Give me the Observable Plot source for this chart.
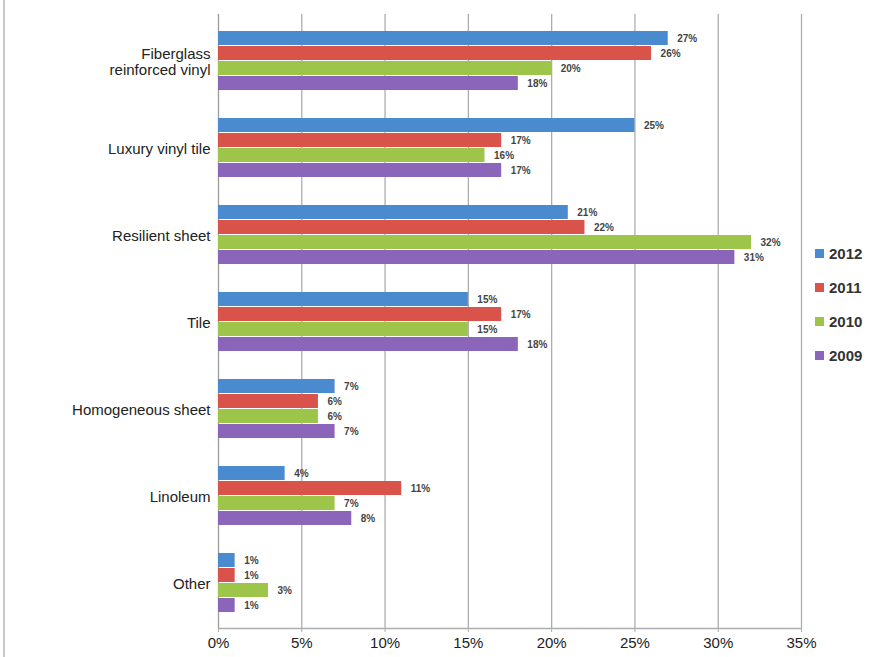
<!DOCTYPE html>
<html>
<head>
<meta charset="utf-8">
<script src="https://cdn.jsdelivr.net/npm/d3@7"></script>
<script src="https://cdn.jsdelivr.net/npm/@observablehq/plot@0.6"></script>
<style>
  body { margin: 0; background: #fff; }
  #wrap { position: relative; width: 877px; height: 657px; overflow: hidden; font-family: "Liberation Sans", Arial, sans-serif; background: #fff; }
  #border { position: absolute; left: 3px; top: 0; width: 2px; height: 657px; background: #c9c9c9; }
  #legend { position: absolute; left: 815px; top: 236px; }
  .item { display: flex; align-items: center; height: 34px; font-size: 15px; font-weight: bold; color: #333; }
  .sw { width: 9px; height: 9px; margin-right: 5px; }
  svg { position: absolute; left: 0; top: 0; }
</style>
</head>
<body>
<div id="wrap"><div id="border"></div><div id="legend"></div></div>
<script>
const categories = ["Fiberglass\nreinforced vinyl", "Luxury vinyl tile", "Resilient sheet", "Tile", "Homogeneous sheet", "Linoleum", "Other"];
const years = ["2012", "2011", "2010", "2009"];
const colors = ["#4a8bd0", "#d9534a", "#9dc54a", "#8a65ba"];
const v2012 = [27, 25, 21, 15, 7, 4, 1];
const v2011 = [26, 17, 22, 17, 6, 11, 1];
const v2010 = [20, 16, 32, 15, 6, 7, 3];
const v2009 = [18, 17, 31, 18, 7, 8, 1];
const xTicks = [0, 5, 10, 15, 20, 25, 30, 35];

const series = [v2012, v2011, v2010, v2009];
const data = [];
categories.forEach((c, i) => years.forEach((y, j) => data.push({category: c, year: y, value: series[j][i]})));

const frame = {
  width: 877, height: 657,
  marginLeft: 218, marginRight: 76, marginTop: 16, marginBottom: 29,
  style: {fontFamily: "'Liberation Sans', Arial, sans-serif", background: "transparent", overflow: "visible"}
};

// Background: gridlines, axis lines and x axis (continuous, not faceted)
const back = Plot.plot({
  ...frame,
  x: {domain: [0, 35]},
  y: {domain: [0, 1], axis: null},
  marks: [
    Plot.ruleX(xTicks.slice(1), {stroke: "#adadad", strokeWidth: 1.3, insetTop: -2}),
    Plot.ruleX([0], {stroke: "#9a9a9a", strokeWidth: 1.3, insetTop: -2}),
    Plot.ruleY([0], {stroke: "#adadad", strokeWidth: 1.3}),
    Plot.axisX({ticks: xTicks, tickFormat: d => d + "%", tickSize: 4, tickPadding: 5, fontSize: 15, fill: "#222", stroke: "#adadad", label: null})
  ]
});

// Foreground: grouped bars via fy facets
const front = Plot.plot({
  ...frame,
  x: {domain: [0, 35], axis: null},
  fy: {domain: categories, paddingInner: 0.27, paddingOuter: 0.135},
  y: {domain: years, padding: 0.06, axis: null},
  color: {domain: years, range: colors},
  marks: [
    Plot.barX(data, {x: "value", y: "year", fy: "category", fill: "year"}),
    Plot.text(data, {x: "value", y: "year", fy: "category", text: d => d.value + "%", textAnchor: "start", dx: 9, fontWeight: "bold", fontSize: 10, fill: "#444"}),
    Plot.axisFy({anchor: "left", tickSize: 0, tickPadding: 8, fontSize: 15, fill: "#222", label: null, lineHeight: 1.1})
  ]
});

const wrap = document.getElementById("wrap");
wrap.appendChild(back);
wrap.appendChild(front);

const legend = document.getElementById("legend");
years.forEach((y, i) => {
  const it = document.createElement("div");
  it.className = "item";
  it.innerHTML = `<span class="sw" style="background:${colors[i]}"></span><span>${y}</span>`;
  legend.appendChild(it);
});
</script>
</body>
</html>
